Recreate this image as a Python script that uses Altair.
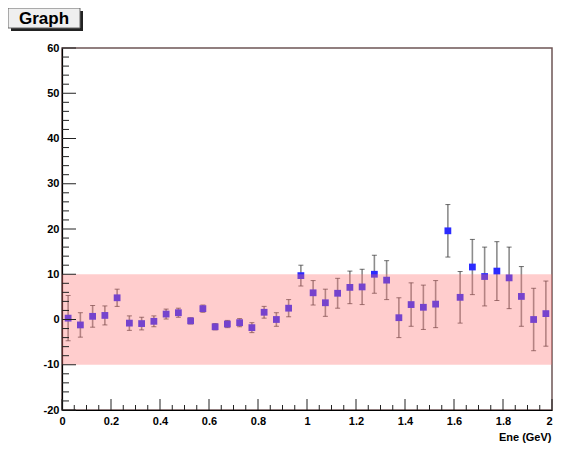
import altair as alt
import pandas as pd

# ---- data ----
energy = [0.025, 0.075, 0.125, 0.175, 0.225, 0.275, 0.325, 0.375, 0.425, 0.475,
          0.525, 0.575, 0.625, 0.675, 0.725, 0.775, 0.825, 0.875, 0.925, 0.975,
          1.025, 1.075, 1.125, 1.175, 1.225, 1.275, 1.325, 1.375, 1.425, 1.475,
          1.525, 1.575, 1.625, 1.675, 1.725, 1.775, 1.825, 1.875, 1.925, 1.975]
values = [0.3, -1.2, 0.7, 0.9, 4.8, -0.8, -0.9, -0.4, 1.2, 1.5,
          -0.3, 2.4, -1.6, -1.0, -0.7, -1.8, 1.6, 0.0, 2.5, 9.7,
          5.9, 3.7, 5.8, 7.1, 7.2, 10.0, 8.7, 0.4, 3.3, 2.7,
          3.4, 19.6, 4.9, 11.6, 9.5, 10.7, 9.2, 5.1, 0.0, 1.3]
errors = [5.0, 2.7, 2.4, 2.1, 1.9, 1.6, 1.4, 1.2, 1.1, 1.0,
          0.7, 0.8, 0.7, 0.8, 0.9, 1.1, 1.3, 1.5, 1.9, 2.3,
          2.7, 3.0, 3.3, 3.6, 3.9, 4.2, 4.3, 4.4, 4.8, 4.9,
          5.2, 5.8, 5.7, 6.1, 6.5, 6.5, 6.8, 6.6, 6.9, 7.2]
band_limits = [-10, 10]
x_domain = [0, 2.0]
y_domain = [-20, 60]
x_major = [0, 0.2, 0.4, 0.6, 0.8, 1, 1.2, 1.4, 1.6, 1.8, 2]
x_minor = [0.05, 0.1, 0.15, 0.25, 0.3, 0.35, 0.45, 0.5, 0.55, 0.65, 0.7, 0.75,
           0.85, 0.9, 0.95, 1.05, 1.1, 1.15, 1.25, 1.3, 1.35, 1.45, 1.5, 1.55,
           1.65, 1.7, 1.75, 1.85, 1.9, 1.95]
y_major = [-20, -10, 0, 10, 20, 30, 40, 50, 60]
y_minor = [-18, -16, -14, -12, -8, -6, -4, -2, 2, 4, 6, 8, 12, 14, 16, 18,
           22, 24, 26, 28, 32, 34, 36, 38, 42, 44, 46, 48, 52, 54, 56, 58]
title_text = "Graph"
x_title = "Ene (GeV)"

W, H = 490, 362

df = pd.DataFrame({"x": energy, "y": values, "err": errors})
xs = alt.Scale(domain=x_domain, nice=False, zero=False)
ys = alt.Scale(domain=y_domain, nice=False, zero=False)

xaxis = alt.Axis(values=x_major, labelExpr="'' + datum.value", title=x_title,
                 labelAlign={"condition": {"test": "datum.value >= 2", "value": "right"},
                             "value": "center"},
                 titleAnchor="end", titleAlign="right", titleX=W - 1, titleY=30,
                 titleBaseline="alphabetic")
yaxis = alt.Axis(values=y_major, labelExpr="'' + datum.value", title="")

base = alt.Chart(df).transform_calculate(
    lo="datum.y - datum.err", hi="datum.y + datum.err")

bars = base.mark_rule(color="#8c8c8c", strokeWidth=1.6).encode(
    x=alt.X("x:Q", scale=xs, axis=xaxis),
    y=alt.Y("lo:Q", scale=ys, axis=yaxis),
    y2="hi:Q")
cap_hi = base.mark_tick(color="#333333", size=5, thickness=1, orient="horizontal").encode(
    x=alt.X("x:Q", scale=xs, title=x_title), y=alt.Y("hi:Q", scale=ys, title=""))
cap_lo = base.mark_tick(color="#333333", size=5, thickness=1, orient="horizontal").encode(
    x=alt.X("x:Q", scale=xs, title=x_title), y=alt.Y("lo:Q", scale=ys, title=""))
pts = base.mark_square(size=46, color="#2b2bff", opacity=1).encode(
    x=alt.X("x:Q", scale=xs, title=x_title), y=alt.Y("y:Q", scale=ys, title=""))

band = alt.Chart(pd.DataFrame({"lo": [band_limits[0]], "hi": [band_limits[1]]})).mark_rect(
    color="#ff7070", opacity=0.35).encode(
    x=alt.value(0), x2=alt.value(W),
    y=alt.Y("lo:Q", scale=ys, title=""), y2="hi:Q")

ymaj = alt.Chart(pd.DataFrame({"v": y_major})).mark_rule(color="#222222", strokeWidth=1).encode(
    y=alt.Y("v:Q", scale=ys, title=""), x=alt.value(0), x2=alt.value(14))
ymin = alt.Chart(pd.DataFrame({"v": y_minor})).mark_rule(color="#222222", strokeWidth=1).encode(
    y=alt.Y("v:Q", scale=ys, title=""), x=alt.value(0), x2=alt.value(7))
xmaj = alt.Chart(pd.DataFrame({"v": x_major})).mark_rule(color="#222222", strokeWidth=1).encode(
    x=alt.X("v:Q", scale=xs, title=x_title), y=alt.value(H), y2=alt.value(H - 11))
xmin = alt.Chart(pd.DataFrame({"v": x_minor})).mark_rule(color="#222222", strokeWidth=1).encode(
    x=alt.X("v:Q", scale=xs, title=x_title), y=alt.value(H), y2=alt.value(H - 5))

tdf = pd.DataFrame({"t": [title_text]})
shadow = alt.Chart(tdf).mark_rect(color="#222222").encode(
    x=alt.value(-51), x2=alt.value(21), y=alt.value(-37), y2=alt.value(-17))
box = alt.Chart(tdf).mark_rect(fill="#efefef", stroke="#666666", strokeWidth=1).encode(
    x=alt.value(-54), x2=alt.value(18), y=alt.value(-40), y2=alt.value(-20))
ttext = alt.Chart(tdf).mark_text(font="Liberation Sans", fontWeight="bold", fontSize=17,
                                 align="center", baseline="middle", color="#000000").encode(
    text="t:N", x=alt.value(-18), y=alt.value(-29))

chart = alt.layer(
    bars, cap_hi, cap_lo, pts, band, ymaj, ymin, xmaj, xmin, shadow, box, ttext
).properties(
    width=W, height=H,
    autosize=alt.AutoSizeParams(type="none"),
    padding={"left": 54, "top": 40, "right": 1, "bottom": 33},
    background="white",
).configure_view(
    stroke="#6e5656", strokeWidth=1.5
).configure_axis(
    domainColor="#000000", domainWidth=1.2, ticks=False, tickSize=0, grid=False,
    labelFont="Liberation Sans", labelFontWeight="bold", labelFontSize=11,
    labelColor="#000000", labelFlush=False, labelOverlap=False,
    titleFont="Liberation Sans", titleFontWeight="bold", titleFontSize=11,
    titleColor="#000000",
).configure_axisX(labelPadding=5).configure_axisY(labelPadding=3)

chart.save("out.html", embed_options={"renderer": "svg", "actions": False})
